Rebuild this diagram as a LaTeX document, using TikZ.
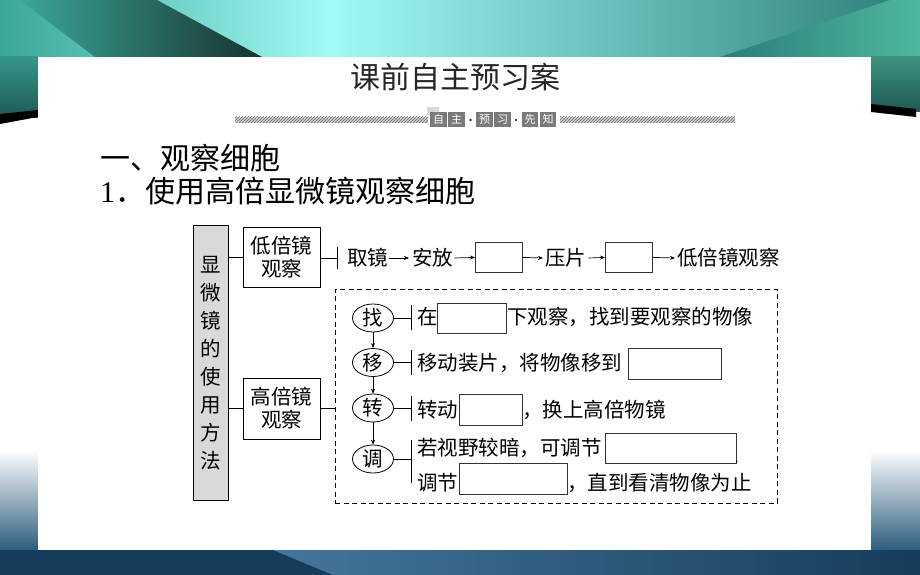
\documentclass[tikz,border=0pt]{standalone}
\usepackage{fontspec}
\setmainfont{Liberation Serif}
\newfontfamily\cjk{Noto Sans CJK SC}
\usetikzlibrary{arrows.meta,shapes.geometric,patterns}
\definecolor{tealA}{HTML}{3AA797}
\definecolor{tealDark}{HTML}{17332F}
\definecolor{cyanB}{HTML}{A2FAF6}
\definecolor{tealC}{HTML}{2B7E77}
\definecolor{greenD}{HTML}{4DB89F}
\definecolor{navy}{HTML}{163C5B}
\definecolor{navyL}{HTML}{44779C}
\definecolor{sideB}{HTML}{2E5D7E}
\definecolor{boxgray}{HTML}{D9D9D9}
\definecolor{bannergray}{HTML}{7A7A7A}
\tikzset{
  cjkfont/.style={font=\cjk\fontsize{20.5}{23}\selectfont},
  txt/.style={cjkfont, inner sep=0pt, anchor=west, text height=18pt, text depth=2.5pt},
  blank/.style={draw=black!80, fill=white, line width=0.8pt, inner sep=0pt, anchor=north west},
  cbox/.style={draw, line width=0.8pt, minimum width=77pt, minimum height=60pt, align=center, inner sep=0pt, cjkfont},
  gbox/.style={draw, fill=boxgray, line width=0.8pt, minimum width=35pt, minimum height=275pt, align=center, inner sep=0pt, font=\cjk\fontsize{20.5}{28}\selectfont},
  circ/.style={ellipse, draw, line width=0.8pt, minimum width=41pt, minimum height=28pt, inner sep=0pt, cjkfont},
  arr/.style={-{Stealth[length=5pt,width=4pt]}, line width=0.7pt},
  ln/.style={line width=0.8pt},
  bbox/.style={fill=bannergray, text=white, minimum width=16.5pt, minimum height=15pt, inner sep=0pt, font=\cjk\fontsize{11}{12}\selectfont},
  bdot/.style={circle, fill=black!80, inner sep=0pt, minimum size=2.6pt},
  head/.style={anchor=west, inner sep=0pt, text height=26.4pt, text depth=3.6pt}
}
\begin{document}
\begin{tikzpicture}[x=1pt,y=-1pt]
\useasboundingbox (0,0) rectangle (920,575);
% ---------- background ----------
\fill[white] (0,0) rectangle (920,575);
\shade[left color=tealA, right color=cyanB] (0,0) rectangle (330,57);
\shade[left color=cyanB, right color=tealC] (330,0) rectangle (920,57);
\shade[left color=tealA, right color=tealDark] (20,0) -- (157,0) -- (262,57) -- (95,57) -- cycle;
\shade[left color=tealC, right color=greenD] (890,0) -- (920,0) -- (920,57) -- (720,57) -- cycle;
\shade[top color=tealA!90!black, bottom color=tealC!70!black] (0,57) rectangle (38,118);
\fill[black] (0,114) -- (38,110) -- (38,117) -- (0,124) -- cycle;
\shade[top color=greenD!80!black, bottom color=tealC!70!black] (871,57) rectangle (920,112);
\fill[black] (871,104) -- (916,109) -- (916,117) -- (871,112) -- cycle;
\shade[top color=white, bottom color=sideB] (0,450) rectangle (38,550);
\shade[top color=white, bottom color=sideB] (871,450) rectangle (920,550);
\fill[navy] (0,550) rectangle (920,575);
\shade[left color=navyL, right color=navy] (273,550) -- (920,550) -- (920,575) -- (333,575) -- cycle;
\fill[white] (38,57) rectangle (871,550);
% ---------- title and banner ----------
\node[font=\cjk\fontsize{30}{32}\selectfont, text=black!85, inner sep=0pt, text height=26.4pt, text depth=3.6pt] (title) at (455,77.5) {课前自主预习案};
\fill[gray!40] (235,117) rectangle (428,123);
\fill[pattern=north east lines, pattern color=gray!90!black] (235,117) rectangle (428,123);
\fill[gray!40] (560,117) rectangle (735,123);
\fill[pattern=north east lines, pattern color=gray!90!black] (560,117) rectangle (735,123);
\fill[gray!30] (427,107) rectangle (439,115);
\node[bbox] (z1) at (438.5,119.5) {自};
\node[bbox] (z2) at (456.5,119.5) {主};
\node[bdot] (zd1) at (470.5,120) {};
\node[bbox] (z3) at (484.5,119.5) {预};
\node[bbox] (z4) at (502.5,119.5) {习};
\node[bdot] (zd2) at (516,120) {};
\node[bbox] (z5) at (530,119.5) {先};
\node[bbox] (z6) at (548,119.5) {知};
% ---------- headings ----------
\node[head, font=\cjk\fontsize{30}{34}\selectfont] (h1) at (100,158) {一、观察细胞};
\node[head, font=\fontsize{30}{34}\selectfont] (h2) at (100,191) {1{\cjk ．使用高倍显微镜观察细胞}};
% ---------- diagram ----------
\node[gbox] (g) at (210.5,363) {显\\微\\镜\\的\\使\\用\\方\\法};
\node[cbox] (lo) at (281.5,257) {低倍镜\\观察};
\node[cbox, minimum height=61pt] (hi) at (281.5,408.5) {高倍镜\\观察};
\draw[ln] (lo.west -| g.east) -- (lo.west);
\draw[ln] (hi.west -| g.east) -- (hi.west);
% low-power row
\coordinate (lb) at (337,258);
\draw[ln] (lo.east |- lb) -- (lb);
\draw[ln] ([yshift=-11pt]lb) -- ([yshift=11pt]lb);
\node[txt] (qj) at (347,258) {取镜};
\node[txt] (af) at (412,258) {安放};
\node[blank, minimum width=47pt, minimum height=30pt] (k1) at (475,242) {};
\node[txt] (yp) at (545,258) {压片};
\node[blank, minimum width=47pt, minimum height=30pt] (k2) at (605,242) {};
\node[txt] (dj) at (677,258) {低倍镜观察};
\draw[arr] ([xshift=1pt]qj.east) -- ([xshift=-3pt]af.west);
\draw[arr] ([xshift=1pt]af.east) -- (k1.west);
\draw[arr] (k1.east) -- ([xshift=-2pt]yp.west);
\draw[arr] ([xshift=2pt]yp.east) -- (k2.west);
\draw[arr] (k2.east) -- ([xshift=-2pt]dj.west);
% high-power part
\node[draw, dashed, dash pattern=on 5pt off 3.5pt, line width=0.8pt, minimum width=442pt, minimum height=214pt, inner sep=0pt] (db) at (556,396) {};
\draw[ln] (hi.east) -- (hi.east -| db.west);
\node[circ] (c1) at (373,318) {找};
\node[circ] (c2) at (373,362.5) {移};
\node[circ] (c3) at (373,408) {转};
\node[circ] (c4) at (373,459) {调};
\draw[arr] (c1.south) -- (c2.north);
\draw[arr] (c2.south) -- (c3.north);
\draw[arr] (c3.south) -- (c4.north);
\coordinate (b1) at (411,317.5);
\coordinate (b2) at (411,362.5);
\coordinate (b3) at (411,408);
\coordinate (b4) at (411,461.5);
\draw[ln] (c1.east) -- (c1.east -| b1);
\draw[ln] ([yshift=-12.5pt]b1) -- ([yshift=12.5pt]b1);
\draw[ln] (c2.east) -- (c2.east -| b2);
\draw[ln] ([yshift=-12.5pt]b2) -- ([yshift=12.5pt]b2);
\draw[ln] (c3.east) -- (c3.east -| b3);
\draw[ln] ([yshift=-12.5pt]b3) -- ([yshift=12.5pt]b3);
\draw[ln] (c4.east) -- (c4.east -| b4);
\draw[ln] ([yshift=-21.5pt]b4) -- ([yshift=21.5pt]b4);
% row texts
\node[txt] (r1a) at (417,317) {在};
\node[blank, minimum width=69pt, minimum height=30pt] (k3) at (437,303) {};
\node[txt] (r1b) at (507,317) {下观察，找到要观察的物像};
\node[txt] (r2a) at (417,363) {移动装片，将物像移到};
\node[blank, minimum width=93pt, minimum height=31pt] (k4) at (628,348) {};
\node[txt] (r3a) at (417,410) {转动};
\node[blank, minimum width=63pt, minimum height=31pt] (k5) at (459,394) {};
\node[txt] (r3b) at (522,410) {，换上高倍物镜};
\node[txt] (r4a) at (417,448) {若视野较暗，可调节};
\node[blank, minimum width=131pt, minimum height=30pt] (k6) at (605,433) {};
\node[font=\fontsize{14}{14}\selectfont, inner sep=0pt, anchor=south west] (pd) at (735,463) {.};
\node[txt] (r5a) at (417,483) {调节};
\node[blank, minimum width=108pt, minimum height=31pt] (k7) at (459,463) {};
\node[txt] (r5b) at (567,483) {，直到看清物像为止};
\end{tikzpicture}
\end{document}
